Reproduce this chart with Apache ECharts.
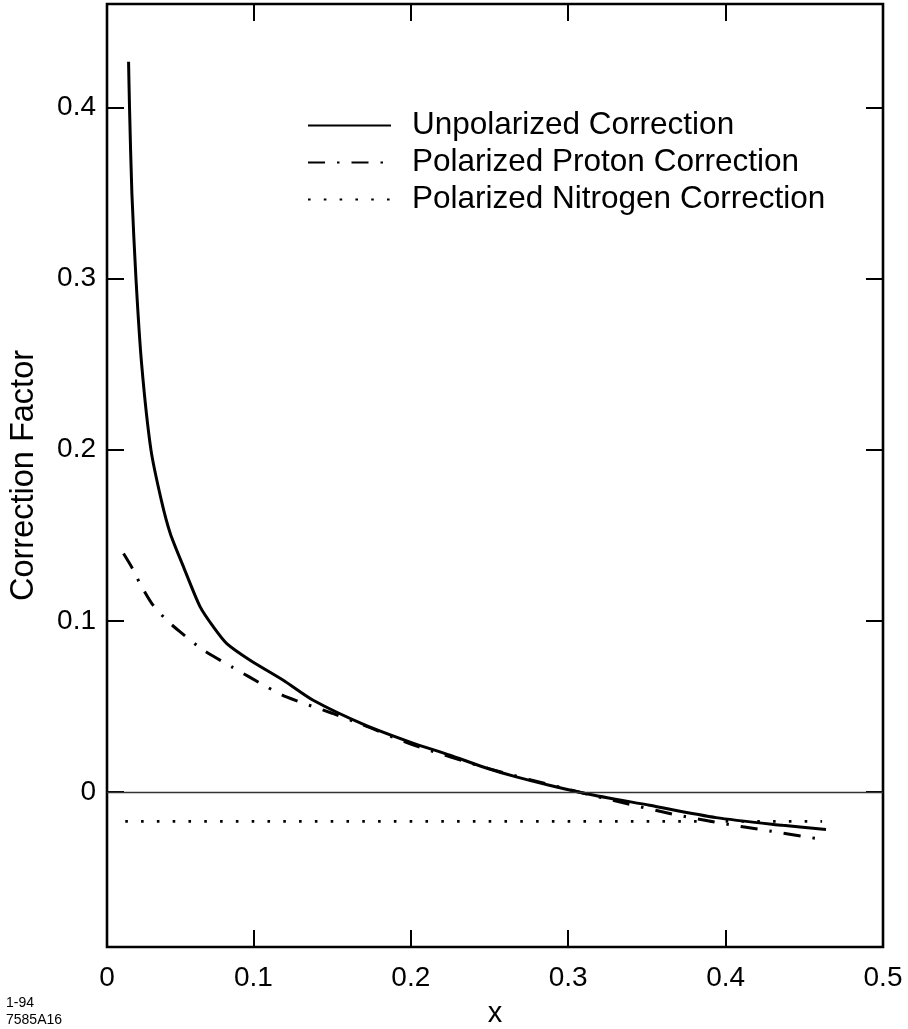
<!DOCTYPE html>
<html>
<head>
<meta charset="utf-8">
<script src="https://cdn.jsdelivr.net/npm/echarts@6/dist/echarts.min.js"></script>
<style>
  html, body { margin: 0; padding: 0; background: #fff; }
  #chart { width: 908px; height: 1029px; }
</style>
</head>
<body>
<div id="chart"></div>
<script>
// Correction factor vs Bjorken x
const unpolX = [0.0207, 0.0213, 0.0228, 0.0254, 0.0290, 0.0349, 0.0415, 0.0472, 0.0556, 0.0662, 0.0746, 0.0831, 0.0979, 0.119, 0.138, 0.17, 0.2, 0.2248, 0.246, 0.267, 0.288, 0.3115, 0.3517, 0.394, 0.4363, 0.4638];
const unpolY = [0.4267, 0.4, 0.35, 0.3, 0.25, 0.2, 0.1705, 0.151, 0.1315, 0.1081, 0.0964, 0.0867, 0.077, 0.0653, 0.0536, 0.0395, 0.029, 0.0215, 0.0146, 0.0088, 0.0039, -0.001, -0.0078, -0.015, -0.0195, -0.022];

const protonX = [0.0175, 0.0238, 0.0277, 0.0355, 0.045, 0.0535, 0.0683, 0.0863, 0.1085, 0.121, 0.15, 0.17, 0.2, 0.25, 0.3, 0.337, 0.3665, 0.396, 0.4278, 0.4575, 0.4613];
const protonY = [0.1393, 0.1296, 0.1222, 0.1101, 0.1003, 0.0935, 0.0828, 0.0731, 0.0614, 0.0555, 0.046, 0.039, 0.028, 0.0135, 0.0015, -0.0068, -0.013, -0.0181, -0.0228, -0.0272, -0.028];

const nitrogenX = [0.0186, 0.1, 0.2, 0.3, 0.4, 0.4613];
const nitrogenY = [-0.0172, -0.0172, -0.0172, -0.0172, -0.0172, -0.0172];

const xTicks = [0.1, 0.2, 0.3, 0.4];
const xLabelValues = [0.007, 0.1, 0.2, 0.3, 0.4, 0.5];
const xLabelTexts = ['0', '0.1', '0.2', '0.3', '0.4', '0.5'];
const yTicks = [0, 0.1, 0.2, 0.3, 0.4];
const yLabelTexts = ['0', '0.1', '0.2', '0.3', '0.4'];

const seriesNames = ['Unpolarized Correction', 'Polarized Proton Correction', 'Polarized Nitrogen Correction'];

const FONT = 'Liberation Sans, Arial, Helvetica, sans-serif';
const X_MIN = 0.007, X_MAX = 0.5, Y_MIN = -0.0906, Y_MAX = 0.4604;

function pairs(xs, ys) { return xs.map((x, i) => [x, ys[i]]); }

const chart = echarts.init(document.getElementById('chart'), null, { renderer: 'canvas' });

const tickStyle = { show: true, inside: true, length: 17, lineStyle: { color: '#000', width: 2 } };
const hiddenLine = { show: false, onZero: false };

chart.setOption({
  backgroundColor: '#fff',
  animation: false,
  color: ['#000', '#000', '#000'],
  textStyle: { fontFamily: FONT },
  grid: {
    left: 107, right: 25, top: 4, bottom: 82,
    outerBoundsMode: 'none',
    containLabel: false,
    show: true, borderColor: '#000', borderWidth: 2.6, backgroundColor: 'transparent'
  },
  legend: {
    orient: 'vertical',
    left: 307, top: 107, padding: 0,
    itemWidth: 83, itemHeight: 14, itemGap: 0,
    selectedMode: false,
    itemStyle: { opacity: 0 },
    data: seriesNames,
    textStyle: { fontSize: 31.5, color: '#000', fontFamily: FONT, lineHeight: 37, padding: [0, 0, 0, 16] }
  },
  xAxis: [{
    type: 'value', min: X_MIN, max: X_MAX, position: 'bottom',
    name: 'x', nameLocation: 'middle', nameGap: 52,
    nameTextStyle: { fontSize: 29, color: '#000', fontFamily: FONT },
    axisLine: hiddenLine,
    splitLine: { show: false },
    axisTick: Object.assign({ customValues: xTicks }, tickStyle),
    axisLabel: {
      customValues: xLabelValues, margin: 17, fontSize: 28, color: '#000', fontFamily: FONT,
      formatter: v => xLabelTexts[xLabelValues.indexOf(v)]
    }
  }, {
    type: 'value', min: X_MIN, max: X_MAX, position: 'top',
    axisLine: hiddenLine, splitLine: { show: false },
    axisTick: Object.assign({ customValues: xTicks }, tickStyle),
    axisLabel: { show: false }
  }],
  yAxis: [{
    type: 'value', min: Y_MIN, max: Y_MAX, position: 'left',
    name: 'Correction Factor', nameLocation: 'middle', nameGap: 66, nameRotate: 90,
    nameTextStyle: { fontSize: 32.5, color: '#000', fontFamily: FONT },
    axisLine: hiddenLine, splitLine: { show: false },
    axisTick: Object.assign({ customValues: yTicks }, tickStyle),
    axisLabel: {
      customValues: yTicks, margin: 11, fontSize: 28, color: '#000', fontFamily: FONT,
      formatter: v => yLabelTexts[yTicks.indexOf(v)]
    }
  }, {
    type: 'value', min: Y_MIN, max: Y_MAX, position: 'right',
    axisLine: hiddenLine, splitLine: { show: false },
    axisTick: Object.assign({ customValues: yTicks }, tickStyle),
    axisLabel: { show: false }
  }],
  series: [{
    name: seriesNames[0], type: 'line', data: pairs(unpolX, unpolY),
    symbol: 'none', smooth: 0.25,
    itemStyle: { color: '#000' },
    lineStyle: { color: '#000', width: 3, type: 'solid' },
    markLine: {
      silent: true, symbol: 'none', label: { show: false },
      lineStyle: { color: '#333', width: 1.3, type: 'solid' },
      data: [{ yAxis: 0 }]
    },
    z: 3
  }, {
    name: seriesNames[1], type: 'line', data: pairs(protonX, protonY),
    symbol: 'none', smooth: 0.25,
    itemStyle: { color: '#000' },
    lineStyle: { color: '#000', width: 3, type: [17, 12, 2.5, 12] },
    z: 3
  }, {
    name: seriesNames[2], type: 'line', data: pairs(nitrogenX, nitrogenY),
    symbol: 'none',
    itemStyle: { color: '#000' },
    lineStyle: { color: '#000', width: 2.6, type: [2.6, 13.2] },
    z: 3
  }],
  graphic: [
    { type: 'text', left: 6, top: 996, style: { text: '1-94', fontSize: 14, fill: '#000', fontFamily: FONT } },
    { type: 'text', left: 6, top: 1013, style: { text: '7585A16', fontSize: 14, fill: '#000', fontFamily: FONT } }
  ]
});
</script>
</body>
</html>
